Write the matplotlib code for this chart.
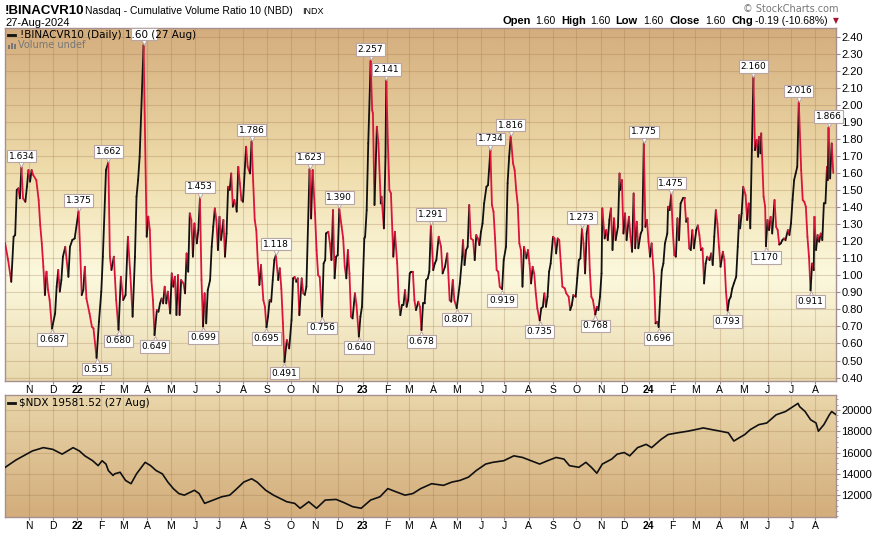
import matplotlib
matplotlib.use('Agg')
import matplotlib.pyplot as plt
import matplotlib.dates as mdates
import matplotlib.transforms as mtransforms
import numpy as np
import pandas as pd
from matplotlib.collections import LineCollection
from matplotlib.colors import LinearSegmentedColormap
from matplotlib.lines import Line2D
from matplotlib.patches import Rectangle

START = pd.Timestamp('2021-10-01')

# !BINACVR10 closes: (calendar days after 1 Oct 2021, value)
cvr_points = [
    (0, 1.19), (4, 1.089), (8, 0.962), (11, 1.226), (13, 1.236), (15, 1.50), (17, 1.51), (19, 1.451),
    (21, 1.634), (23, 1.451), (26, 1.431), (28, 1.519), (30, 1.617), (32, 1.549), (34, 1.617), (36, 1.588),
    (40, 1.558), (43, 1.441), (45, 1.294), (47, 1.187), (49, 1.05), (51, 0.884), (53, 1.021), (55, 0.913),
    (57, 0.855), (60, 0.687), (64, 0.776), (66, 0.933), (68, 1.031), (70, 0.904), (72, 0.972), (74, 1.109),
    (77, 1.167), (81, 0.991), (83, 1.167), (86, 1.207), (89, 1.216), (94, 1.375), (96, 1.148), (98, 0.884),
    (100, 0.913), (102, 1.050), (104, 0.864), (108, 0.776), (111, 0.698), (113, 0.689), (117, 0.515),
    (120, 0.728), (123, 0.904), (125, 1.109), (129, 1.617), (132, 1.662), (134, 1.109), (136, 1.031),
    (139, 1.109), (142, 0.855), (145, 0.680), (148, 0.991), (151, 0.855), (154, 0.884), (157, 1.226),
    (160, 1.011), (163, 0.757), (166, 1.109), (168, 1.461), (170, 1.558), (172, 1.695), (177, 2.35),
    (181, 1.226), (183, 1.344), (185, 1.265), (187, 0.972), (189, 0.855), (191, 0.649), (194, 0.796),
    (196, 0.786), (198, 0.835), (200, 0.864), (202, 0.835), (204, 0.933), (206, 0.835), (208, 0.904),
    (211, 0.776), (213, 1.011), (215, 0.933), (217, 0.991), (219, 0.767), (221, 1.001), (223, 0.767),
    (225, 0.972), (228, 0.953), (230, 0.894), (232, 1.128), (234, 1.021), (236, 1.363), (238, 1.324),
    (240, 1.109), (242, 1.304), (245, 1.187), (247, 1.265), (249, 1.453), (251, 0.972), (253, 0.699),
    (255, 0.894), (257, 0.718), (259, 0.913), (262, 0.972), (264, 1.167), (266, 1.285), (268, 1.392),
    (270, 1.324), (272, 1.148), (274, 1.343), (276, 1.207), (279, 1.324), (281, 1.109), (283, 1.245),
    (285, 1.519), (287, 1.500), (289, 1.597), (291, 1.402), (293, 1.441), (296, 1.373), (298, 1.636),
    (300, 1.539), (302, 1.441), (304, 1.431), (306, 1.597), (308, 1.754), (310, 1.636), (313, 1.597),
    (315, 1.786), (317, 1.55), (319, 1.324), (321, 1.265), (323, 1.070), (325, 0.943), (327, 1.060),
    (330, 0.855), (332, 0.816), (334, 0.695), (336, 0.757), (338, 0.855), (340, 0.845), (342, 0.972),
    (344, 1.089), (346, 1.118), (349, 0.972), (351, 1.041), (353, 0.92), (355, 0.72), (357, 0.491),
    (360, 0.620), (363, 0.571), (366, 0.737), (368, 0.982), (370, 0.99), (372, 0.962), (374, 0.982),
    (376, 0.766), (379, 0.982), (381, 0.894), (383, 0.885), (385, 0.933), (389, 1.623), (391, 1.333),
    (393, 1.617), (396, 1.363), (398, 1.148), (400, 1.001), (402, 0.99), (405, 0.756), (407, 1.069),
    (409, 1.089), (410, 1.245), (413, 1.255), (415, 1.187), (417, 1.089), (419, 1.382), (421, 0.982),
    (423, 1.109), (425, 1.118), (427, 1.390), (430, 1.285), (432, 1.216), (434, 1.050), (436, 0.982),
    (438, 1.148), (440, 1.011), (442, 0.757), (444, 0.747), (447, 0.894), (449, 0.825), (452, 0.640),
    (454, 0.757), (456, 0.816), (459, 1.216), (460, 1.226), (462, 1.382), (464, 1.773), (466, 2.086),
    (467, 2.257), (469, 1.969), (470, 1.949), (472, 1.412), (475, 1.871), (477, 1.773), (480, 1.421),
    (481, 1.461), (484, 1.275), (486, 1.695), (487, 2.141), (489, 1.793), (491, 1.500), (493, 1.48),
    (496, 1.109), (498, 1.255), (501, 1.069), (503, 0.845), (505, 0.766), (507, 0.825), (509, 0.825),
    (511, 0.913), (513, 0.815), (515, 0.855), (517, 1.011), (519, 1.021), (521, 1.021), (523, 0.854),
    (525, 0.796), (528, 0.845), (530, 0.815), (532, 0.678), (534, 0.835), (536, 0.835), (538, 0.972),
    (540, 0.982), (542, 1.021), (544, 1.291), (547, 1.030), (549, 1.069), (551, 1.089), (554, 1.226),
    (557, 1.167), (559, 1.011), (562, 1.050), (565, 1.128), (568, 0.854), (570, 0.845), (572, 0.972),
    (574, 0.854), (577, 0.807), (581, 0.952), (584, 1.109), (585, 1.206), (587, 1.060), (589, 1.148),
    (591, 1.167), (593, 1.412), (595, 1.216), (598, 1.206), (600, 1.089), (602, 1.236), (604, 1.216),
    (606, 1.177), (608, 1.255), (610, 1.304), (612, 1.421), (615, 1.519), (617, 1.529), (620, 1.734),
    (622, 1.412), (624, 1.373), (626, 1.216), (628, 1.030), (630, 1.021), (632, 0.933), (635, 0.919),
    (637, 1.089), (640, 1.167), (642, 1.539), (644, 1.695), (646, 1.816), (649, 1.656), (651, 1.617),
    (653, 1.500), (655, 1.412), (657, 1.187), (659, 1.148), (661, 0.933), (663, 1.167), (666, 1.099),
    (668, 1.148), (670, 1.069), (672, 0.952), (674, 1.050), (676, 1.011), (678, 0.894), (680, 0.806),
    (683, 0.735), (685, 0.806), (687, 0.815), (689, 0.894), (691, 0.815), (693, 0.874), (695, 1.021),
    (697, 1.069), (700, 1.226), (702, 1.216), (704, 1.128), (706, 1.216), (708, 1.206), (710, 1.069),
    (712, 0.933), (715, 0.923), (717, 0.894), (720, 0.874), (722, 0.796), (724, 0.825), (726, 0.884),
    (729, 0.874), (731, 0.982), (733, 1.089), (735, 1.099), (737, 1.273), (739, 1.187), (741, 1.011),
    (743, 1.245), (745, 1.304), (747, 1.030), (749, 0.874), (751, 0.855), (754, 0.768), (756, 0.815),
    (758, 0.796), (760, 0.874), (762, 1.011), (763, 1.392), (766, 1.216), (768, 1.265), (770, 1.206),
    (772, 1.324), (774, 1.392), (776, 1.148), (778, 1.334), (780, 1.206), (783, 1.285), (785, 1.597),
    (786, 1.500), (788, 1.558), (790, 1.245), (792, 1.363), (794, 1.206), (797, 1.343), (799, 1.226),
    (801, 1.138), (803, 1.480), (805, 1.158), (807, 1.314), (809, 1.158), (812, 1.245), (814, 1.265),
    (816, 1.775), (818, 1.284), (820, 1.324), (822, 1.196), (824, 1.109), (826, 1.187), (829, 0.991),
    (831, 0.718), (833, 0.727), (835, 0.696), (837, 0.874), (839, 1.030), (841, 1.069), (843, 1.187),
    (846, 1.245), (847, 1.402), (849, 1.382), (851, 1.475), (853, 1.265), (855, 1.118), (857, 1.109),
    (859, 1.334), (861, 1.206), (863, 1.421), (866, 1.451), (868, 1.451), (870, 1.314), (872, 1.334),
    (874, 1.158), (876, 1.148), (878, 1.265), (880, 1.158), (883, 1.265), (885, 1.292), (887, 1.236),
    (889, 1.148), (891, 1.158), (893, 0.952), (895, 1.069), (897, 1.109), (900, 1.089), (902, 1.128),
    (904, 1.060), (906, 1.226), (908, 1.382), (910, 1.304), (912, 1.167), (914, 1.050), (917, 1.138),
    (919, 1.089), (921, 0.903), (923, 0.793), (925, 0.854), (927, 0.874), (929, 0.923), (931, 0.952),
    (934, 0.991), (936, 1.167), (938, 1.353), (939, 1.275), (941, 1.363), (943, 1.519), (946, 1.470),
    (948, 1.324), (950, 1.421), (952, 1.275), (954, 1.734), (956, 2.160), (958, 1.734), (960, 1.793),
    (962, 1.695), (963, 1.812), (965, 1.715), (966, 1.832), (969, 1.461), (971, 1.402), (972, 1.170),
    (974, 1.324), (976, 1.265), (978, 1.343), (980, 1.245), (983, 1.441), (985, 1.284), (987, 1.265),
    (989, 1.18), (991, 1.187), (993, 1.206), (995, 1.216), (997, 1.206), (1000, 1.265), (1002, 1.236),
    (1004, 1.304), (1006, 1.441), (1008, 1.558), (1010, 1.597), (1012, 1.636), (1014, 2.016),
    (1017, 1.617), (1019, 1.441), (1021, 1.431), (1023, 1.402), (1025, 1.226), (1027, 1.109),
    (1029, 0.911), (1031, 1.069), (1033, 1.030), (1034, 1.343), (1036, 1.148), (1038, 1.236),
    (1040, 1.197), (1042, 1.245), (1044, 1.206), (1046, 1.421), (1048, 1.421), (1050, 1.636),
    (1051, 1.558), (1052, 1.866), (1054, 1.568), (1056, 1.773), (1058, 1.60),
]

# labelled swing highs / lows (days as above)
peak_days = [21, 94, 132, 249, 315, 346, 389, 427, 467, 487, 544, 620, 646, 737, 816, 851, 956, 1014, 1052]
hidden_peak_day = 177   # its label box sits under the legend text
trough_days = [60, 117, 145, 191, 253, 334, 357, 405, 452, 532, 577, 635, 683, 754, 835, 923, 972, 1029]

# $NDX
ndx_dates = [
    '2021-10-01', '2021-10-15', '2021-11-05', '2021-11-19', '2021-12-01', '2021-12-13', '2021-12-27',
    '2022-01-04', '2022-01-11', '2022-01-21', '2022-01-28', '2022-02-02', '2022-02-07', '2022-02-10',
    '2022-02-16', '2022-02-18', '2022-02-25', '2022-03-04', '2022-03-11', '2022-03-18', '2022-03-29',
    '2022-04-05', '2022-04-12', '2022-04-20', '2022-04-27', '2022-05-04', '2022-05-11', '2022-05-18',
    '2022-05-31', '2022-06-06', '2022-06-13', '2022-06-24', '2022-07-05', '2022-07-15', '2022-07-22',
    '2022-08-02', '2022-08-12', '2022-08-19', '2022-08-30', '2022-09-09', '2022-09-26', '2022-10-06',
    '2022-10-13', '2022-10-24', '2022-11-03', '2022-11-14', '2022-11-28', '2022-12-08', '2022-12-19',
    '2022-12-30', '2023-01-11', '2023-01-23', '2023-02-02', '2023-02-13', '2023-02-24', '2023-03-06',
    '2023-03-16', '2023-03-30', '2023-04-14', '2023-04-25', '2023-05-05', '2023-05-16', '2023-05-26',
    '2023-06-07', '2023-06-16', '2023-06-30', '2023-07-13', '2023-07-24', '2023-08-04', '2023-08-15',
    '2023-08-25', '2023-09-05', '2023-09-15', '2023-09-22', '2023-10-04', '2023-10-13', '2023-10-20',
    '2023-10-27', '2023-11-03', '2023-11-15', '2023-11-22', '2023-12-01', '2023-12-08', '2023-12-18',
    '2023-12-29', '2024-01-05', '2024-01-17', '2024-01-26', '2024-02-07', '2024-02-20', '2024-03-01',
    '2024-03-11', '2024-03-22', '2024-04-02', '2024-04-12', '2024-04-19', '2024-04-26', '2024-05-03',
    '2024-05-10', '2024-05-21', '2024-05-31', '2024-06-12', '2024-06-24', '2024-07-10', '2024-07-12',
    '2024-07-19', '2024-07-26', '2024-08-02', '2024-08-05', '2024-08-12', '2024-08-19', '2024-08-22',
    '2024-08-27',
]
ndx_vals = [
    14600, 15300, 16150, 16460, 16300, 15850, 16460,
    16150, 15690, 15230, 14770, 15230, 14920, 14310,
    13850, 14000, 14150, 13380, 13075, 14000, 15080,
    14770, 14310, 14000, 13230, 12615, 12150, 12000,
    12460, 12150, 11230, 11540, 11850, 12000, 12460,
    13230, 13540, 13230, 12460, 12000, 11380, 11230,
    10770, 11380, 10770, 11540, 11600, 11300, 10920,
    10770, 11540, 11850, 12615, 12300, 12000, 12150,
    12615, 13075, 12920, 13230, 13380, 13690, 14310,
    14920, 15080, 15230, 15690, 15540, 15230, 14920,
    15230, 15540, 15385, 14770, 14615, 15080, 14615,
    14060, 14920, 15385, 15850, 16000, 15690, 16460,
    16770, 16460, 17230, 17690, 17850, 18000, 18150,
    18310, 18150, 18000, 17850, 17080, 17390, 17690,
    18150, 18620, 18770, 19540, 19850, 20615, 20310,
    19850, 19080, 18770, 18000, 18620, 19540, 19850,
    19581.52,
]

RED = '#dc143c'
W, H = 880, 537


def fx(px):
    return px / W


def fy(py):
    return 1 - py / H


def day_num(days):
    return mdates.date2num(START + pd.to_timedelta(np.asarray(days), unit='D'))


def shade(ax, stops):
    cmap = LinearSegmentedColormap.from_list('bg', stops)
    grad = np.linspace(0, 1, 256).reshape(-1, 1)
    ax.imshow(grad, cmap=cmap, aspect='auto', extent=[0, 1, 0, 1], origin='lower',
              transform=ax.transAxes, zorder=0)


fig = plt.figure(figsize=(8.8, 5.37), dpi=100)
ax1 = fig.add_axes([fx(5), fy(381), (836 - 5) / W, (381 - 28) / H])
ax2 = fig.add_axes([fx(5), fy(517), (836 - 5) / W, (517 - 395) / H])

shade(ax1, [(0, '#ead9ae'), (0.30, '#fcf9de'), (0.6, '#efdcab'), (1, '#d4ad7d')])
shade(ax2, [(0, '#d3ad7b'), (1, '#e9d6aa')])

x_lo = mdates.date2num(START)
x_hi = mdates.date2num(START + pd.Timedelta(days=1061.5))
months = pd.date_range('2021-11-01', '2024-08-01', freq='MS')
mlabels = [d.strftime('%y') if d.month == 1 else d.strftime('%b')[0] for d in months]

for ax in (ax1, ax2):
    ax.set_xlim(x_lo, x_hi)
    ax.set_xticks(mdates.date2num(months))
    ax.set_xticklabels(mlabels, fontsize=7.5, family='Liberation Sans')
    for lbl, d in zip(ax.get_xticklabels(), months):
        if d.month == 1:
            lbl.set_fontweight('bold')
    ax.yaxis.tick_right()
    ax.tick_params(axis='x', length=2, pad=1, color='#9a8a8a')
    ax.tick_params(axis='y', length=3, pad=1, labelsize=8, color='#9a8a8a')
    ax.grid(True, color='#9c7448', alpha=0.28, lw=0.8)
    ax.set_axisbelow(True)
    for s in ax.spines.values():
        s.set_color('#a68f8f')
        s.set_linewidth(1)

# top panel: up moves black, down moves red
days, vals = map(np.array, zip(*cvr_points))
xs = day_num(days)
pts = np.column_stack([xs, vals])
segs = np.stack([pts[:-1], pts[1:]], axis=1)
cols = np.where(np.diff(vals) >= 0, '#111111', RED)
ax1.add_collection(LineCollection(segs, colors=cols, linewidths=1.3, zorder=3,
                                  capstyle='round', joinstyle='round'))
ax1.set_ylim(0.38, 2.45)
yt = np.arange(4, 25) / 10
ax1.set_yticks(yt)
ax1.set_yticklabels([f'{v:.2f}' for v in yt])
for lbl in ax1.get_yticklabels():
    lbl.set_family('Liberation Sans')

cvr = dict(cvr_points)
edge = '#b8a6a6'
box = dict(boxstyle='square,pad=0.2', fc='white', ec=edge, lw=0.8)
up3 = mtransforms.offset_copy(ax1.transData, fig=fig, x=0, y=3.5, units='dots')
dn3 = mtransforms.offset_copy(ax1.transData, fig=fig, x=0, y=-3.5, units='dots')
up10 = mtransforms.offset_copy(ax1.transData, fig=fig, x=0, y=11, units='dots')
for d in peak_days:
    v = cvr[d]
    x = day_num([d])[0]
    ax1.plot(x, v, marker='v', ms=5, mfc='white', mec=edge, mew=0.7, transform=up3, zorder=5)
    ax1.annotate(f'{v:.3f}', (x, v), xytext=(0, 8), textcoords='offset points', ha='center',
                 va='center', fontsize=6.5, bbox=box, zorder=6)
for d in trough_days:
    v = cvr[d]
    x = day_num([d])[0]
    ax1.plot(x, v, marker='^', ms=5, mfc='white', mec=edge, mew=0.7, transform=dn3, zorder=5)
    ax1.annotate(f'{v:.3f}', (x, v), xytext=(0, -8), textcoords='offset points', ha='center',
                 va='center', fontsize=6.5, bbox=box, zorder=6)

# the top spike: pointer plus an empty label box behind the legend
v = cvr[hidden_peak_day]
x = day_num([hidden_peak_day])[0]
ax1.plot(x, v, marker='v', ms=5, mfc='white', mec=edge, mew=0.7, transform=up3, zorder=5)
ax1.plot(x, v, marker=[(-1, -0.42), (1, -0.42), (1, 0.42), (-1, 0.42), (-1, -0.42)], ms=19,
         mfc='white', mec=edge, mew=0.8, transform=up10, zorder=5, clip_on=False)

# bottom panel
ax2.plot(mdates.date2num(pd.to_datetime(ndx_dates)), ndx_vals, color='#111111', lw=1.2, zorder=3)
ax2.set_ylim(9950, 21400)
ax2.set_yticks([12000, 14000, 16000, 18000, 20000])
ax2.set_yticklabels(['12000', '14000', '16000', '18000', '20000'])
ax2.set_yticks(np.arange(10000, 21400, 500), minor=True)
ax2.tick_params(axis='y', which='minor', length=1.5, color='#9a8a8a')
for lbl in ax2.get_yticklabels():
    lbl.set_family('Liberation Sans')

# header
fig.text(fx(5), fy(11), '!BINACVR10', fontsize=9.5, weight='bold', family='Liberation Sans', va='center')
fig.text(fx(85), fy(11), 'Nasdaq - Cumulative Volume Ratio 10 (NBD)', fontsize=7.5,
         family='Liberation Sans', va='center')
fig.text(fx(302), fy(11), 'INDX', fontsize=6.5, family='Liberation Sans', va='center')
fig.text(fx(5), fy(23), '27-Aug-2024', fontsize=8, family='Liberation Sans', va='center')
fig.text(fx(838), fy(8.5), '\u00a9 StockCharts.com', fontsize=7, color='#777777', ha='right', va='center')
pieces = [(502.7, 'Open', True), (535.7, '1.60', False), (561.7, 'High', True), (590, '1.60', False),
          (615.7, 'Low', True), (643, '1.60', False), (669.3, 'Close', True), (705.7, '1.60', False),
          (731.7, 'Chg', True), (755, '-0.19 (-10.68%)', False)]
for px, s, bold in pieces:
    fig.text(fx(px), fy(21), s, fontsize=8 if bold else 7.5, weight='bold' if bold else 'normal',
             family='Liberation Sans', va='center')
fig.text(fx(836), fy(21), '\u25bc', fontsize=5.5, color='#a3122e', ha='center', va='center')

# in-panel legends
fig.add_artist(Line2D([fx(8), fx(15)], [fy(35), fy(35)], color='#111111', lw=2))
fig.text(fx(20), fy(35), '!BINACVR10 (Daily) 1.60 (27 Aug)', fontsize=7.5, va='center', zorder=10)
for i, h in enumerate([4, 6, 5]):
    fig.add_artist(Rectangle((fx(8 + i * 3), fy(49)), 2 / W, h / H, color='#777777', lw=0))
fig.text(fx(18), fy(45.5), 'Volume undef', fontsize=7, color='#777777', va='center')
fig.add_artist(Line2D([fx(8), fx(15)], [fy(403), fy(403)], color='#111111', lw=2))
fig.text(fx(19), fy(403), '$NDX 19581.52 (27 Aug)', fontsize=7.5, va='center')

fig.savefig('out.png', dpi=100, facecolor='white')
